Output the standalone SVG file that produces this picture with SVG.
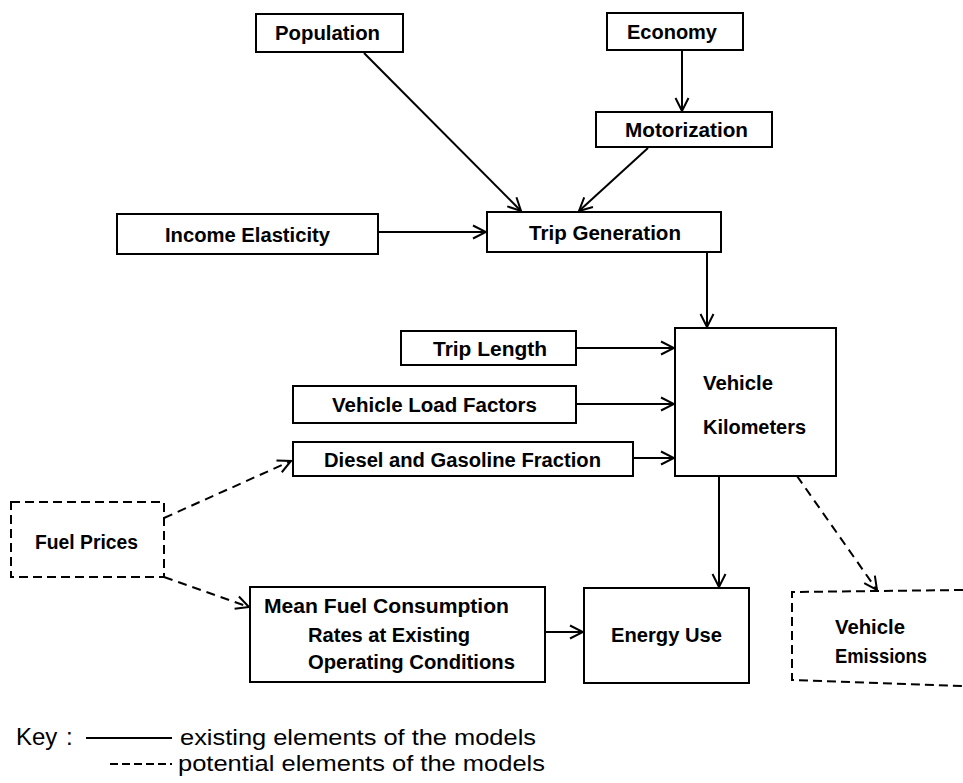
<svg xmlns="http://www.w3.org/2000/svg" width="963" height="783" viewBox="0 0 963 783">
<style>
.box{fill:#fff;stroke:#000;stroke-width:2}
.dbox{fill:none;stroke:#000;stroke-width:2;stroke-dasharray:9 5}
.t{font-family:"Liberation Sans",Arial,sans-serif;font-weight:bold;font-size:20px;fill:#000}
.k{font-family:"Liberation Sans",Arial,sans-serif;font-size:22px;fill:#000}
.c{fill:none;stroke:#000;stroke-width:2;marker-end:url(#arr)}
.d{fill:none;stroke:#000;stroke-width:2;stroke-dasharray:9 6;marker-end:url(#arr)}
</style>
<defs>
<marker id="arr" markerUnits="userSpaceOnUse" markerWidth="16" markerHeight="16" viewBox="0 0 16 16" refX="14" refY="8" orient="auto">
<path d="M1,1.5 L14,8 L1,14.5" fill="none" stroke="#000" stroke-width="2"/>
</marker>
</defs>
<rect width="963" height="783" fill="#fff"/>
<g id="connectors">
<line class="c" x1="364" y1="53" x2="521" y2="211"/>
<line class="c" x1="648" y1="148" x2="579" y2="211"/>
<line class="c" x1="682" y1="50" x2="682" y2="111"/>
<line class="c" x1="378" y1="232" x2="486" y2="232"/>
<line class="c" x1="707" y1="252" x2="707" y2="327"/>
<line class="c" x1="576" y1="348" x2="674" y2="348"/>
<line class="c" x1="576" y1="404" x2="674" y2="404"/>
<line class="c" x1="633" y1="458" x2="674" y2="458"/>
<line class="c" x1="719" y1="476" x2="719" y2="587"/>
<line class="d" x1="797" y1="476" x2="877" y2="590"/>
<line class="d" x1="164" y1="518" x2="291" y2="461"/>
<line class="d" x1="164" y1="577" x2="249" y2="607"/>
<line class="c" x1="545" y1="632" x2="583" y2="632"/>
</g>
<g id="population"><rect class="box" x="256" y="14" width="147" height="38"/><text class="t" x="275" y="40" textLength="105" lengthAdjust="spacingAndGlyphs">Population</text></g>
<g id="economy"><rect class="box" x="607" y="13" width="136" height="37"/><text class="t" x="627" y="39" textLength="90" lengthAdjust="spacingAndGlyphs">Economy</text></g>
<g id="motorization"><rect class="box" x="596" y="112" width="176" height="35"/><text class="t" x="625" y="137" textLength="123" lengthAdjust="spacingAndGlyphs">Motorization</text></g>
<g id="income-elasticity"><rect class="box" x="117" y="214" width="261" height="40"/><text class="t" x="165" y="242" textLength="165" lengthAdjust="spacingAndGlyphs">Income Elasticity</text></g>
<g id="trip-generation"><rect class="box" x="487" y="212" width="234" height="40"/><text class="t" x="529" y="240" textLength="152" lengthAdjust="spacingAndGlyphs">Trip Generation</text></g>
<g id="trip-length"><rect class="box" x="401" y="331" width="175" height="34"/><text class="t" x="433" y="356" textLength="114" lengthAdjust="spacingAndGlyphs">Trip Length</text></g>
<g id="vehicle-load-factors"><rect class="box" x="293" y="386" width="283" height="37"/><text class="t" x="332" y="412" textLength="205" lengthAdjust="spacingAndGlyphs">Vehicle Load Factors</text></g>
<g id="diesel-gasoline"><rect class="box" x="293" y="442" width="340" height="34"/><text class="t" x="324" y="467" textLength="277" lengthAdjust="spacingAndGlyphs">Diesel and Gasoline Fraction</text></g>
<g id="vehicle-kilometers"><rect class="box" x="675" y="328" width="161" height="148"/><text class="t" x="703" y="390" textLength="70" lengthAdjust="spacingAndGlyphs">Vehicle</text><text class="t" x="703" y="434" textLength="103" lengthAdjust="spacingAndGlyphs">Kilometers</text></g>
<g id="fuel-prices"><rect class="dbox" x="11" y="502" width="153" height="75"/><text class="t" x="35" y="549" textLength="103" lengthAdjust="spacingAndGlyphs">Fuel Prices</text></g>
<g id="mean-fuel-consumption"><rect class="box" x="250" y="587" width="295" height="95"/><text class="t" x="264" y="613" textLength="245" lengthAdjust="spacingAndGlyphs">Mean Fuel Consumption</text><text class="t" x="308" y="642" textLength="162" lengthAdjust="spacingAndGlyphs">Rates at Existing</text><text class="t" x="308" y="669" textLength="207" lengthAdjust="spacingAndGlyphs">Operating Conditions</text></g>
<g id="energy-use"><rect class="box" x="584" y="588" width="165" height="95"/><text class="t" x="611" y="642" textLength="111" lengthAdjust="spacingAndGlyphs">Energy Use</text></g>
<g id="vehicle-emissions"><path class="dbox" d="M963,590 L792,592 L792,680 L963,686"/><text class="t" x="835" y="634" textLength="70" lengthAdjust="spacingAndGlyphs">Vehicle</text><text class="t" x="835" y="663" textLength="92" lengthAdjust="spacingAndGlyphs">Emissions</text></g>
<g id="key">
<text class="k" x="16" y="745" style="font-size:24px">Key<tspan x="66">:</tspan></text>
<line x1="86" y1="738" x2="172" y2="738" stroke="#000" stroke-width="2"/>
<text class="k" x="180" y="745" textLength="356" lengthAdjust="spacingAndGlyphs">existing elements of the models</text>
<line x1="110" y1="764" x2="172" y2="764" stroke="#000" stroke-width="2" stroke-dasharray="8 4"/>
<text class="k" x="178" y="771" textLength="367" lengthAdjust="spacingAndGlyphs">potential elements of the models</text>
</g>
</svg>
